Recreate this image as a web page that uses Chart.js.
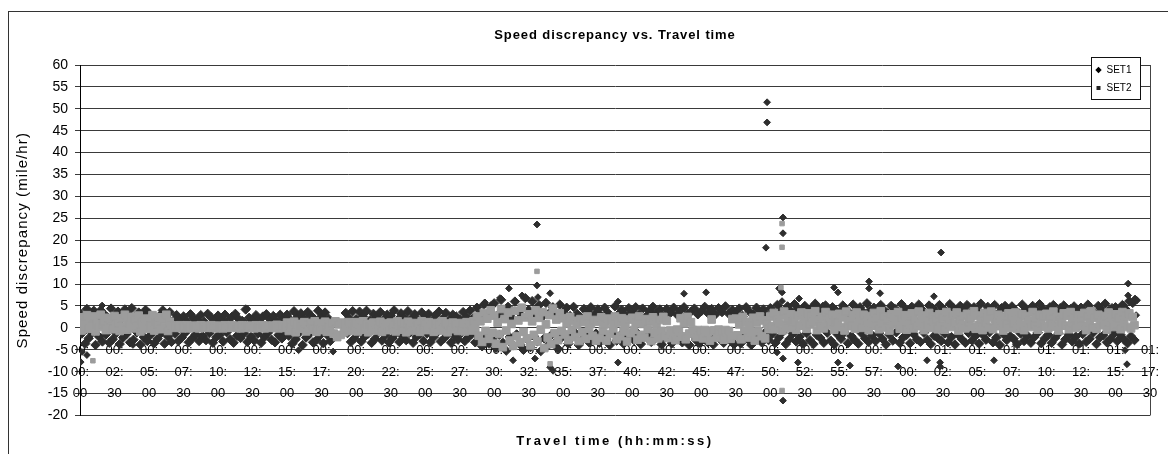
<!DOCTYPE html>
<html>
<head>
<meta charset="utf-8">
<title>Speed discrepancy vs. Travel time</title>
<script src="https://cdn.jsdelivr.net/npm/chart.js@4/dist/chart.umd.min.js"></script>
<style>
  html, body { margin: 0; padding: 0; background: #fff; }
  #wrap { position: relative; width: 1168px; height: 454px; }
</style>
</head>
<body>
<div id="wrap"><canvas id="chart"></canvas></div>
<script>
// Travel time axis labels (hh:mm:ss), one every 2.5 minutes
const xTickLabels = [
  '00:00:00','00:02:30','00:05:00','00:07:30','00:10:00','00:12:30','00:15:00','00:17:30',
  '00:20:00','00:22:30','00:25:00','00:27:30','00:30:00','00:32:30','00:35:00','00:37:30',
  '00:40:00','00:42:30','00:45:00','00:47:30','00:50:00','00:52:30','00:55:00','00:57:30',
  '01:00:00','01:02:30','01:05:00','01:07:30','01:10:00','01:12:30','01:15:00','01:17:30'
];

// Speed discrepancy samples (mile/hr), one sample every 7.5 s of travel time,
// one row per 2.5-minute block. null = no reading.
const SAMPLE_SECONDS = 7.5;

const set1Values = [
  3.4,-1.3,2.2,-3.6,4.3,-2.4,2.8,-1.1,3.9,-3.9,2.1,-2.0,4.0,-3.1,3.1,-1.5,2.4,-3.4,4.4,-2.6,
  2.6,-1.2,3.7,-3.7,2.0,-2.2,4.2,-1.4,3.0,-3.3,4.5,-2.7,2.3,-1.0,3.5,-3.8,2.9,-2.1,4.1,-3.0,
  3.3,-1.6,2.1,-3.5,null,-2.5,2.7,-1.2,4.0,-3.6,2.5,-2.0,3.6,-3.2,1.6,-1.3,2.9,-3.0,2.0,-2.2,
  2.6,-1.1,1.5,-3.3,3.1,-2.4,2.2,-1.5,1.8,-3.0,2.9,-1.9,1.4,-2.8,3.2,-1.2,2.4,-3.4,1.7,-2.1,
  2.8,-1.6,1.9,-3.1,3.0,-1.0,1.5,-2.6,2.5,-3.4,3.2,-1.8,2.0,-2.3,1.6,-1.2,4.2,-3.2,2.3,-2.0,
  1.8,-2.9,2.9,-1.3,1.5,-3.4,2.6,-2.1,3.1,-1.1,2.0,-2.7,2.7,-3.3,1.6,-1.6,3.0,-2.4,2.2,-1.2,
  3.0,-1.8,1.8,-3.6,3.8,-2.6,2.4,-1.1,3.3,-3.9,2.0,-2.2,3.6,-1.4,2.7,-3.3,1.9,-2.8,3.9,-1.7,
  2.6,-3.5,3.5,-1.5,2.1,-3.0,null,null,null,null,null,null,null,null,3.4,-1.2,2.2,-3.2,3.8,-2.4,
  2.0,-1.1,3.7,-3.1,2.6,-2.0,3.9,-1.3,1.7,-3.4,3.2,-2.5,2.4,-1.0,3.6,-2.9,1.9,-1.7,3.0,-3.3,
  2.8,-2.3,4.0,-1.2,1.8,-3.2,3.3,-1.8,2.3,-2.8,3.8,-1.1,2.1,-3.4,3.1,-2.0,1.7,-1.4,3.5,-3.0,
  2.4,-1.3,3.2,-3.3,1.6,-2.1,2.9,-1.0,3.7,-3.1,2.0,-2.4,3.4,-1.5,1.8,-3.4,3.0,-1.9,2.6,-2.7,
  1.9,-1.2,3.6,-3.0,2.5,-2.2,3.9,-1.4,2.2,-3.3,4.6,-2.0,3.1,-4.2,5.3,-1.8,2.8,-3.6,4.9,-2.5,
  5.6,-4.6,2.9,-1.6,6.4,-3.4,3.5,-5.2,4.8,-2.1,2.4,-4.0,6.0,-1.5,3.8,-3.8,2.7,-5.0,6.8,-2.6,
  4.1,-4.4,6.1,-1.9,3.0,-3.1,5.2,-5.3,2.6,-2.4,5.7,-4.1,3.4,-1.7,4.7,-3.5,2.8,-4.8,5.3,-2.2,
  3.6,-1.5,4.6,-3.6,2.7,-2.2,4.8,-1.2,3.2,-3.9,2.5,-2.7,4.3,-1.6,3.8,-3.3,4.7,-2.0,3.0,-1.3,
  4.2,-3.4,2.8,-1.4,4.6,-2.6,3.4,-3.9,2.6,-1.2,4.9,-2.9,3.1,-1.7,4.1,-3.6,2.9,-2.3,4.5,-1.5,
  3.5,-2.8,4.7,-1.2,3.0,-3.7,4.4,-2.0,2.6,-1.4,3.9,-3.2,4.8,-2.5,3.3,-1.1,4.2,-3.8,2.8,-2.2,
  4.3,-1.7,3.4,-3.5,4.6,-2.4,3.0,-1.2,4.1,-3.3,4.7,-2.0,3.2,-3.9,3.7,-1.5,4.4,-2.8,3.1,-3.4,
  3.8,-1.3,4.8,-3.0,3.3,-2.1,4.3,-3.8,3.0,-1.6,4.5,-2.6,3.6,-3.4,4.9,-1.2,3.2,-2.9,4.1,-3.7,
  3.4,-1.9,4.4,-3.5,2.7,-1.3,4.7,-2.6,3.7,-3.9,3.0,-1.5,4.6,-2.3,3.2,-3.3,4.2,-1.1,2.9,-2.8,
  4.5,-1.4,3.5,-3.4,5.2,-2.2,4.0,-1.0,3.2,-3.7,4.9,-2.6,3.7,-1.3,5.4,-3.1,4.3,-2.0,3.4,-3.6,
  5.0,-1.2,3.6,-2.8,4.6,-3.7,5.5,-1.6,3.3,-2.3,4.2,-3.4,5.1,-1.1,3.1,-2.9,4.7,-3.8,3.9,-1.5,
  3.6,-2.5,5.1,-1.0,4.2,-3.5,3.2,-1.9,5.3,-2.8,3.9,-3.6,4.7,-1.3,3.5,-2.4,5.6,-3.2,4.1,-1.7,
  4.6,-3.0,3.4,-1.2,5.2,-2.5,4.0,-3.8,3.3,-1.5,5.0,-2.9,4.4,-1.0,3.7,-3.4,5.4,-2.2,4.3,-1.6,
  3.9,-3.5,4.8,-1.4,3.5,-2.6,5.3,-3.2,4.1,-1.1,3.3,-2.7,5.1,-3.7,4.5,-1.8,3.6,-2.3,5.2,-3.0,
  4.4,-1.3,3.7,-3.3,5.4,-2.1,4.6,-3.8,3.2,-1.6,5.0,-2.6,4.0,-3.4,5.2,-1.2,3.5,-2.9,4.7,-1.8,
  4.1,-3.6,5.5,-1.5,3.4,-2.7,4.8,-1.0,3.8,-3.3,5.2,-2.2,3.3,-3.9,4.5,-1.4,5.0,-2.8,3.7,-1.9,
  4.9,-2.5,4.0,-3.7,3.3,-1.3,5.3,-3.0,4.2,-1.8,3.6,-3.4,5.0,-2.1,3.9,-1.1,5.4,-3.5,4.3,-2.4,
  3.7,-1.6,4.7,-3.4,5.2,-2.3,3.4,-1.2,4.5,-3.8,5.1,-2.6,3.2,-1.5,4.3,-3.1,4.9,-2.0,3.9,-3.6,
  4.6,-1.4,3.6,-3.2,5.3,-2.5,4.1,-1.1,3.3,-3.7,5.0,-2.2,4.0,-1.7,5.5,-3.3,3.8,-2.6,4.5,-1.3,
  4.7,-3.0,3.5,-1.6,5.2,-2.7,4.2,-3.5,6.1,-1.9,5.7,-2.8
];

const set2Values = [
  2.4,-0.6,1.2,0.9,2.9,-0.2,1.7,0.5,2.6,-0.8,1.0,0.2,3.0,0.8,1.5,-0.5,2.3,0.1,1.9,-0.3,
  2.7,0.6,1.1,-0.7,2.2,0.3,3.0,-0.4,1.4,0.9,2.5,-0.1,1.8,0.4,2.8,-0.8,1.3,0.7,2.1,-0.2,
  1.6,0.5,2.9,-0.6,1.2,0.8,2.4,-0.3,1.9,0.2,3.0,-0.7,1.4,0.6,0.5,0.0,0.4,0.2,0.6,-0.1,
  0.4,0.1,0.6,-0.1,0.3,0.2,0.5,0.0,0.4,-0.1,0.6,0.2,0.5,0.0,0.3,0.1,0.6,0.0,0.4,-0.1,
  0.5,0.1,0.3,-0.1,0.6,0.0,0.4,0.1,0.6,0.2,0.3,0.0,0.5,-0.1,0.6,0.1,0.4,0.0,0.5,0.1,
  0.4,-0.1,0.6,0.1,0.3,0.0,0.6,-0.1,0.5,0.2,0.4,0.0,0.5,0.1,0.7,-0.1,0.4,0.1,0.6,0.0,
  1.2,-0.7,0.6,0.2,1.4,-1.0,0.9,-0.2,0.5,0.3,1.3,-0.8,0.8,-0.4,1.1,0.1,1.5,-0.9,0.7,-0.3,
  1.0,-0.5,1.4,-0.9,0.6,0.2,1.1,-1.3,1.5,-2.1,0.8,-1.6,1.2,-1.0,0.7,-0.1,1.3,-0.7,0.9,0.2,
  1.3,-0.8,0.7,0.1,1.5,-0.4,0.9,-1.0,0.6,0.3,1.2,-0.6,0.8,-0.2,1.4,-0.9,1.0,0.2,0.7,-0.5,
  1.2,0.0,0.8,-0.8,1.5,0.2,0.6,-0.4,1.0,-1.0,1.4,0.1,0.7,-0.6,1.1,0.3,0.9,-0.9,1.5,-0.2,
  0.9,-0.5,1.3,0.2,0.7,-0.9,1.1,-0.1,0.8,-0.6,1.5,0.1,1.0,-1.0,0.6,-0.3,1.2,0.2,0.9,-0.7,
  1.1,-0.4,0.7,-0.8,1.3,0.1,0.9,-0.6,1.5,-0.1,2.6,-1.8,1.5,-3.2,3.4,-0.7,2.1,-2.5,4.0,-1.1,
  2.8,-3.6,1.2,-1.4,4.3,-4.4,2.0,-0.6,3.5,-2.9,0.9,-4.1,3.9,-1.9,1.7,-3.3,4.6,-0.9,2.4,-2.4,
  3.1,-4.0,1.5,-1.6,4.0,-3.1,2.3,-0.4,3.6,-4.6,0.8,-2.2,2.9,-3.7,4.4,-1.2,1.9,-2.8,3.3,-0.7,
  2.2,-1.5,1.0,-2.8,2.5,-0.4,1.6,-2.1,0.7,-3.0,2.0,-1.0,1.3,-2.5,2.6,-0.2,0.9,-1.8,1.8,-2.9,
  1.4,-2.3,2.4,-0.6,0.8,-2.9,2.1,-1.4,1.7,-0.1,2.6,-2.6,1.1,-1.9,2.2,-0.8,0.6,-3.1,1.9,-1.2,
  2.3,-0.5,1.2,-2.7,2.6,-1.6,0.9,-2.2,2.0,-0.3,1.5,-3.0,2.4,-1.1,0.7,-2.4,1.8,-0.7,2.5,-1.9,
  1.6,-2.3,-0.6,-1.5,-0.9,-2.8,-0.4,-0.9,2.2,-2.0,1.0,-2.6,2.5,-1.3,1.3,-0.5,-0.7,-2.1,-0.5,-1.6,
  -0.8,-2.4,-0.5,-1.2,-0.9,-2.9,1.9,-0.6,-0.6,-2.2,-0.4,-1.4,-0.8,-2.7,-0.5,-1.0,-0.7,-2.5,2.0,-1.8,
  2.1,-1.7,0.8,-2.6,2.5,-0.5,1.4,-2.2,0.6,-1.1,2.3,-2.9,1.1,-0.8,2.6,-1.9,1.7,-2.4,0.9,-0.3,
  2.6,0.4,3.4,-0.3,1.8,1.1,2.9,-0.6,3.7,0.7,2.2,0.0,3.1,1.3,1.6,-0.4,2.8,0.5,3.5,0.9,
  2.0,-0.2,3.3,0.8,2.7,1.4,3.8,-0.5,1.9,0.3,2.5,-0.1,3.6,1.0,2.3,0.6,3.0,-0.4,1.7,1.2,
  3.2,0.2,2.4,-0.6,3.7,0.9,1.8,0.4,2.9,-0.2,3.5,1.3,2.1,0.0,3.0,0.7,1.6,-0.5,2.7,1.1,
  3.4,0.5,2.2,-0.3,3.8,1.0,2.6,0.1,1.9,-0.6,3.1,0.8,2.4,1.4,3.6,-0.2,2.0,0.6,2.9,-0.4,
  2.5,0.9,3.3,-0.1,1.7,0.4,3.7,1.2,2.8,-0.5,2.1,0.7,3.4,0.0,2.6,1.3,1.9,-0.3,3.1,0.5,
  2.3,-0.4,3.6,0.8,2.0,0.2,2.9,1.1,3.5,-0.6,1.8,0.6,2.7,-0.1,3.2,1.4,2.2,0.3,3.8,-0.2,
  2.8,0.7,1.9,-0.5,3.4,1.0,2.5,0.1,3.7,-0.3,2.1,1.3,3.0,0.4,1.7,-0.6,2.6,0.9,3.3,0.0,
  2.4,1.1,3.5,-0.2,2.0,0.6,3.1,-0.5,2.7,1.2,1.8,0.2,3.6,0.8,2.3,-0.4,3.0,1.0,2.6,0.3,
  3.2,-0.1,2.1,0.9,3.7,0.3,2.5,-0.6,1.9,1.2,3.3,0.5,2.8,-0.3,3.6,1.1,2.2,0.0,2.9,0.7,
  2.0,0.4,3.4,-0.5,2.6,1.2,3.8,0.1,2.3,-0.2,3.0,0.9,1.7,0.6,2.7,-0.4,3.5,1.3,2.4,0.2,
  3.1,0.8,2.2,-0.3,3.6,1.0,2.7,0.2,3.3,-0.1,2.5,0.6
];

// Isolated readings: [travel time in seconds, speed discrepancy]
const set1Spikes = [
  [3,-7.8],[8,-5.5],[30,-6.2],[96,5.1],[230,-3.9],[726,4.4],[950,-5.1],[1100,-5.4],
  [1760,5.8],[1825,6.8],[1864,9.0],[1882,-7.4],[1921,7.4],[1977,-7.0],[1986,23.6],[1986,9.7],
  [1990,7.0],[2043,7.9],[2043,-9.0],[2056,-9.8],[2338,6.0],[2338,-7.9],[2625,7.8],[2721,8.1],
  [2729,-3.6],[2981,18.3],[2986,51.5],[2986,46.9],[3029,-5.6],[3038,9.0],[3051,8.1],[3051,6.1],
  [3055,25.2],[3055,21.6],[3055,-7.0],[3055,-16.6],[3120,-7.9],[3125,6.7],[3203,5.1],[3229,5.1],
  [3277,9.2],[3294,8.1],[3294,-7.9],[3346,-8.6],[3429,10.6],[3429,9.0],[3477,7.9],[3555,-8.8],
  [3681,-7.4],[3711,7.2],[3738,-7.9],[3738,-8.8],[3742,17.2],[3972,-7.4],[4542,-5.1],[4550,-8.3],
  [4555,10.1],[4555,7.4],[4585,6.7],[4594,6.3],[4590,2.9]
];
const set2Spikes = [
  [56,-7.5],[1986,12.9],[2043,-8.2],[3046,9.2],[3051,23.8],[3051,18.4],[3051,-14.3]
];

const TITLE_TEXT = 'Speed discrepancy vs. Travel time';
const X_TITLE_TEXT = 'Travel time (hh:mm:ss)';
const Y_TITLE_TEXT = 'Speed discrepancy (mile/hr)';
const FONT = "'Liberation Sans', Arial, sans-serif";
const SET1_COLOR = '#2e2e2e';
const SET2_COLOR = '#9c9c9c';

function toSeconds(label) {
  const [h, m, s] = label.split(':').map(Number);
  return h * 3600 + m * 60 + s;
}
const labelBySeconds = new Map(xTickLabels.map(l => [toSeconds(l), l]));

function toPoints(values, spikes) {
  const pts = [];
  values.forEach((v, i) => { if (v !== null) pts.push({ x: i * SAMPLE_SECONDS, y: v }); });
  spikes.forEach(([t, v]) => pts.push({ x: t, y: v, spike: true }));
  return pts;
}

// Wraps a drawing method so its text is rendered with extra letter spacing
function withLetterSpacing(obj, method, spacing) {
  if (!obj || obj['_spaced_' + method]) return;
  const original = obj[method];
  obj[method] = function (...args) {
    const ctx = this.ctx;
    const previous = ctx.letterSpacing;
    ctx.letterSpacing = spacing;
    try { return original.apply(this, args); } finally { ctx.letterSpacing = previous; }
  };
  obj['_spaced_' + method] = true;
}
const TEXT_SPACING = {
  [TITLE_TEXT]: '0.9px',
  [X_TITLE_TEXT]: '2.5px',
  [Y_TITLE_TEXT]: '1.1px'
};

const spacingPlugin = {
  id: 'spacing',
  afterLayout(chart) {
    chart.boxes.forEach(b => {
      if (!b.axis && b.options && TEXT_SPACING[b.options.text]) withLetterSpacing(b, 'draw', TEXT_SPACING[b.options.text]);
    });
    withLetterSpacing(chart.scales.y, 'drawTitle', TEXT_SPACING[Y_TITLE_TEXT]);
  }
};

// Outer chart frame and plot-area right edge
const framePlugin = {
  id: 'frame',
  beforeDraw(chart) {
    const { ctx, width, height } = chart;
    ctx.save();
    ctx.fillStyle = '#fff';
    ctx.fillRect(0, 0, width, height);
    ctx.strokeStyle = '#333';
    ctx.lineWidth = 1;
    ctx.strokeRect(8.5, 11.5, width + 10, height + 10);
    ctx.restore();
  },
  beforeDatasetsDraw(chart) {
    const { ctx, chartArea: a } = chart;
    const x = Math.round(a.right) + 0.5;
    ctx.save();
    ctx.strokeStyle = '#444';
    ctx.lineWidth = 1;
    ctx.beginPath();
    ctx.moveTo(x, a.top);
    ctx.lineTo(x, a.bottom);
    ctx.stroke();
    ctx.restore();
  }
};

// Small boxed legend in the top-right corner of the plot area
const legendBoxPlugin = {
  id: 'legendBox',
  afterDraw(chart) {
    const { ctx, chartArea: a } = chart;
    const x0 = Math.round(a.right - 59) + 0.5, y0 = Math.round(a.top - 8) + 0.5, w = 49, h = 42;
    ctx.save();
    ctx.fillStyle = '#fff';
    ctx.fillRect(x0, y0, w, h);
    ctx.strokeStyle = '#111';
    ctx.lineWidth = 1;
    ctx.strokeRect(x0, y0, w, h);
    ctx.font = '10px ' + FONT;
    ctx.textBaseline = 'middle';
    ctx.textAlign = 'left';
    chart.data.datasets.forEach((ds, i) => {
      const cy = y0 + 12.5 + i * 18;
      const cx = x0 + 7;
      ctx.fillStyle = i === 0 ? '#000' : '#222';
      ctx.beginPath();
      if (ds.pointStyle === 'rectRot') {
        ctx.moveTo(cx, cy - 3.2); ctx.lineTo(cx + 3.2, cy); ctx.lineTo(cx, cy + 3.2); ctx.lineTo(cx - 3.2, cy);
        ctx.closePath();
      } else {
        ctx.rect(cx - 2, cy - 2, 4, 4);
      }
      ctx.fill();
      ctx.fillStyle = '#000';
      ctx.fillText(ds.label, x0 + 15, cy + 0.5);
    });
    ctx.restore();
  }
};

// Dense runs of readings merge into a continuous band; isolated readings keep a small marker
const isSpike = (ctx) => !!(ctx.raw && ctx.raw.spike);

new Chart(document.getElementById('chart'), {
  type: 'scatter',
  data: {
    datasets: [
      {
        label: 'SET1',
        data: toPoints(set1Values, set1Spikes),
        pointStyle: 'rectRot',
        pointRadius: (ctx) => (isSpike(ctx) ? 3.4 : 4.7),
        pointBorderWidth: 1,
        pointBackgroundColor: SET1_COLOR,
        pointBorderColor: SET1_COLOR,
        order: 1
      },
      {
        label: 'SET2',
        data: toPoints(set2Values, set2Spikes),
        pointStyle: 'rect',
        pointRadius: (ctx) => (isSpike(ctx) ? 3.2 : 5.4),
        pointBorderWidth: 1,
        pointBackgroundColor: SET2_COLOR,
        pointBorderColor: SET2_COLOR,
        order: 0
      }
    ]
  },
  options: {
    responsive: true,
    maintainAspectRatio: false,
    animation: false,
    devicePixelRatio: 1,
    events: [],
    layout: { padding: { left: 0, right: 18, top: 0, bottom: 0 } },
    plugins: {
      legend: { display: false },
      tooltip: { enabled: false },
      title: {
        display: true,
        fullSize: false,
        text: TITLE_TEXT,
        color: '#000',
        font: { family: FONT, size: 13, weight: 'bold' },
        padding: { top: 28, bottom: 21.4 }
      },
      subtitle: {
        display: true,
        fullSize: false,
        position: 'bottom',
        text: X_TITLE_TEXT,
        color: '#000',
        font: { family: FONT, size: 13, weight: 'bold' },
        padding: { top: 17.7, bottom: 5.2 }
      }
    },
    scales: {
      x: {
        type: 'linear',
        min: 0,
        max: toSeconds(xTickLabels[xTickLabels.length - 1]),
        position: { y: -2.6 },
        grid: { display: false, drawTicks: false },
        border: { display: false },
        afterBuildTicks(scale) {
          scale.ticks = xTickLabels.map(l => ({ value: toSeconds(l) }));
        },
        ticks: {
          autoSkip: false,
          maxRotation: 0,
          minRotation: 0,
          padding: 0,
          color: '#000',
          font: { family: FONT, size: 13, lineHeight: '21.8px' },
          callback(value) {
            const label = labelBySeconds.get(value);
            if (!label) return '';
            const parts = label.split(':');
            return parts.map((p, i) => (i < parts.length - 1 ? p + ':' : p));
          }
        }
      },
      y: {
        min: -20,
        max: 60,
        afterFit(scale) { scale.width = 80; },
        grid: { color: '#3a3a3a', lineWidth: 1, tickLength: 5 },
        border: { color: '#000', width: 1 },
        ticks: {
          stepSize: 5,
          padding: 7,
          color: '#000',
          font: { family: FONT, size: 14 }
        },
        title: {
          display: true,
          text: Y_TITLE_TEXT,
          color: '#000',
          font: { family: FONT, size: 15 },
          padding: { top: 14, bottom: 0 }
        }
      }
    }
  },
  plugins: [framePlugin, legendBoxPlugin, spacingPlugin]
});
</script>
</body>
</html>
